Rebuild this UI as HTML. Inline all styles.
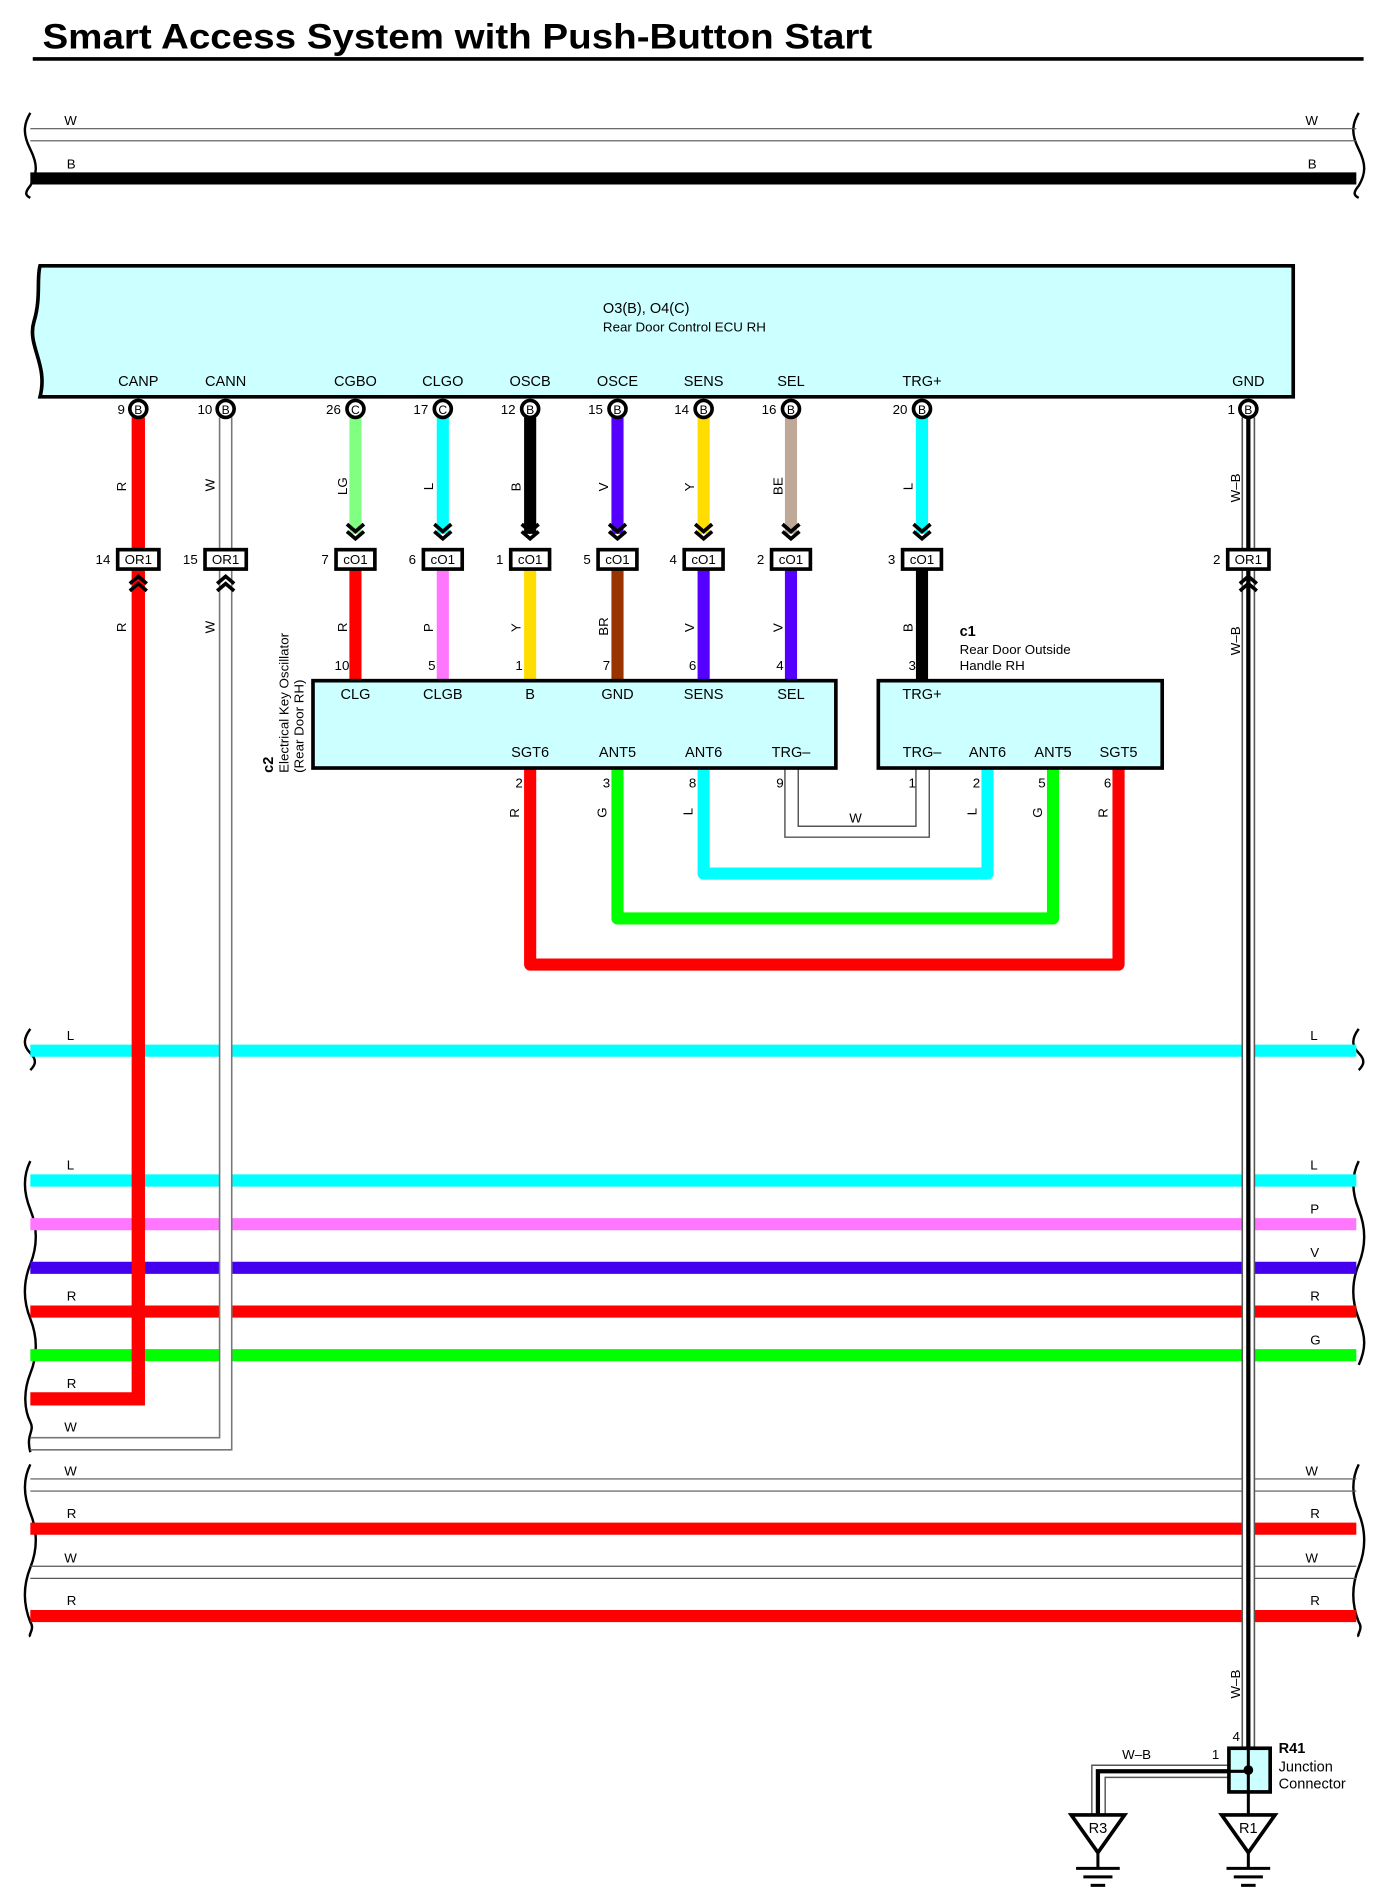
<!DOCTYPE html>
<html><head><meta charset="utf-8"><style>
html,body{margin:0;padding:0;background:#fff}
svg{display:block}
text{font-family:"Liberation Sans",sans-serif;fill:#000}
</style></head><body>
<svg width="1383" height="1900" viewBox="0 0 1140 1566" xmlns="http://www.w3.org/2000/svg">
<text x="35" y="40" font-size="29" font-weight="bold" textLength="684" lengthAdjust="spacingAndGlyphs">Smart Access System with Push-Button Start</text>
<rect x="27" y="47" width="1097" height="3" fill="#000"/>

<g fill="none" stroke="#000" stroke-width="2">
<path d="M25 93 c-6 10 -6 18 0 30 c6 12 6 20 0 30 c-5 6 -4 8 0 10"/>
<path d="M1120 93 c-6 10 -6 18 0 30 c6 12 6 20 0 30 c-5 6 -4 8 0 10"/>
<path d="M25 848 c-6 8 -6 14 0 20 c6 6 4 10 0 14"/>
<path d="M1120 848 c-6 8 -6 14 0 20 c6 6 4 10 0 14"/>
<path d="M25 957 c-6 12 -6 25 0 40 c6 15 6 30 0 45 c-6 15 -6 30 0 45 c6 15 6 30 0 45 c-6 15 -5 30 0 40 c4 8 -4 10 0 25"/>
<path d="M1120 957 c-6 12 -6 25 0 40 c6 15 6 30 0 45 c-6 15 -6 30 0 45 c6 15 6 25 0 38"/>
<path d="M25 1207 c-6 12 -6 25 0 40 c6 15 6 30 0 45 c-6 15 -6 30 0 45 c4 6 -2 10 0 12"/>
<path d="M1120 1207 c-6 12 -6 25 0 40 c6 15 6 30 0 45 c-6 15 -6 30 0 45 c4 6 -2 10 0 12"/>
</g>

<g stroke="#555" stroke-width="1"><line x1="25" y1="106" x2="1118" y2="106"/><line x1="25" y1="116" x2="1118" y2="116"/></g>
<line x1="25" y1="147" x2="1118" y2="147" stroke="#000" stroke-width="10"/>
<g font-size="11"><text x="53" y="103">W</text><text x="1076" y="103">W</text><text x="55" y="139">B</text><text x="1078" y="139">B</text></g>

<path d="M33 219 L1066 219 L1066 327 L33 327 C40 300 22 285 28 265 C34 245 30 230 33 219 Z" fill="#ccffff" stroke="#000" stroke-width="3"/>
<text x="497" y="258" font-size="12">O3(B), O4(C)</text>
<text x="497" y="273" font-size="11">Rear Door Control ECU RH</text>
<g font-size="12" text-anchor="middle">
<text x="114" y="318">CANP</text><text x="186" y="318">CANN</text><text x="293" y="318">CGBO</text><text x="365" y="318">CLGO</text><text x="437" y="318">OSCB</text><text x="509" y="318">OSCE</text><text x="580" y="318">SENS</text><text x="652" y="318">SEL</text><text x="760" y="318">TRG+</text><text x="1029" y="318">GND</text>
</g>

<g stroke-width="10">
<line x1="25" y1="866" x2="1118" y2="866" stroke="#00ffff"/>
<line x1="25" y1="973" x2="1118" y2="973" stroke="#00ffff"/>
<line x1="25" y1="1009" x2="1118" y2="1009" stroke="#ff77ff"/>
<line x1="25" y1="1045" x2="1118" y2="1045" stroke="#4400ee"/>
<line x1="25" y1="1081" x2="1118" y2="1081" stroke="#ff0000"/>
<line x1="25" y1="1117" x2="1118" y2="1117" stroke="#00ff00"/>
<line x1="25" y1="1260" x2="1118" y2="1260" stroke="#ff0000"/>
<line x1="25" y1="1332" x2="1118" y2="1332" stroke="#ff0000"/>
</g>
<g stroke="#555" stroke-width="1">
<line x1="25" y1="1219" x2="1118" y2="1219"/><line x1="25" y1="1229" x2="1118" y2="1229"/>
<line x1="25" y1="1291" x2="1118" y2="1291"/><line x1="25" y1="1301" x2="1118" y2="1301"/>
</g>
<g font-size="11">
<text x="55" y="857">L</text><text x="1080" y="857">L</text>
<text x="55" y="964">L</text><text x="1080" y="964">L</text>
<text x="1080" y="1000">P</text>
<text x="1080" y="1036">V</text>
<text x="55" y="1072">R</text><text x="1080" y="1072">R</text>
<text x="1080" y="1108">G</text>
<text x="55" y="1144">R</text>
<text x="53" y="1180">W</text>
<text x="53" y="1216">W</text><text x="1076" y="1216">W</text>
<text x="55" y="1251">R</text><text x="1080" y="1251">R</text>
<text x="53" y="1288">W</text><text x="1076" y="1288">W</text>
<text x="55" y="1323">R</text><text x="1080" y="1323">R</text>
</g>

<g stroke="#fff" stroke-width="10" fill="none">
<line x1="186" y1="480" x2="186" y2="1195"/>
<line x1="1029" y1="480" x2="1029" y2="1440"/>
</g>
<path d="M114 344 V1153 H25" fill="none" stroke="#ff0000" stroke-width="11"/>
<path d="M181 344 V1185 H25 M191 344 V1195 H25" fill="none" stroke="#777" stroke-width="1.3"/>
<path d="M1024 344 V1441 M1034 344 V1441" stroke="#555" stroke-width="1.3"/>
<line x1="1029" y1="344" x2="1029" y2="1441" stroke="#000" stroke-width="3.5"/>

<g stroke-width="10">
<line x1="293" y1="344" x2="293" y2="440" stroke="#80ff80"/>
<line x1="365" y1="344" x2="365" y2="440" stroke="#00ffff"/>
<line x1="437" y1="344" x2="437" y2="440" stroke="#000"/>
<line x1="509" y1="344" x2="509" y2="440" stroke="#5500ff"/>
<line x1="580" y1="344" x2="580" y2="440" stroke="#ffdd00"/>
<line x1="652" y1="344" x2="652" y2="440" stroke="#c0a898"/>
<line x1="760" y1="344" x2="760" y2="440" stroke="#00ffff"/>
<line x1="293" y1="470" x2="293" y2="561" stroke="#ff0000"/>
<line x1="365" y1="470" x2="365" y2="561" stroke="#ff77ff"/>
<line x1="437" y1="470" x2="437" y2="561" stroke="#ffdd00"/>
<line x1="509" y1="470" x2="509" y2="561" stroke="#993300"/>
<line x1="580" y1="470" x2="580" y2="561" stroke="#5500ff"/>
<line x1="652" y1="470" x2="652" y2="561" stroke="#5500ff"/>
<line x1="760" y1="470" x2="760" y2="561" stroke="#000"/>
</g>

<g fill="#fff" stroke="#000" stroke-width="3">
<circle cx="114" cy="337" r="7"/><circle cx="186" cy="337" r="7"/><circle cx="293" cy="337" r="7"/><circle cx="365" cy="337" r="7"/><circle cx="437" cy="337" r="7"/><circle cx="509" cy="337" r="7"/><circle cx="580" cy="337" r="7"/><circle cx="652" cy="337" r="7"/><circle cx="760" cy="337" r="7"/><circle cx="1029" cy="337" r="7"/>
</g>
<g font-size="10" text-anchor="middle">
<text x="114" y="341">B</text><text x="186" y="341">B</text><text x="293" y="341">C</text><text x="365" y="341">C</text><text x="437" y="341">B</text><text x="509" y="341">B</text><text x="580" y="341">B</text><text x="652" y="341">B</text><text x="760" y="341">B</text><text x="1029" y="341">B</text>
</g>
<g font-size="11" text-anchor="end">
<text x="103" y="341">9</text><text x="175" y="341">10</text><text x="281" y="341">26</text><text x="353" y="341">17</text><text x="425" y="341">12</text><text x="497" y="341">15</text><text x="568" y="341">14</text><text x="640" y="341">16</text><text x="748" y="341">20</text><text x="1018" y="341">1</text>
</g>

<g fill="none" stroke="#000" stroke-width="3">
<path d="M286 432 l7 6 l7 -6 M286 438 l7 6 l7 -6"/>
<path d="M358 432 l7 6 l7 -6 M358 438 l7 6 l7 -6"/>
<path d="M430 432 l7 6 l7 -6 M430 438 l7 6 l7 -6"/>
<path d="M502 432 l7 6 l7 -6 M502 438 l7 6 l7 -6"/>
<path d="M573 432 l7 6 l7 -6 M573 438 l7 6 l7 -6"/>
<path d="M645 432 l7 6 l7 -6 M645 438 l7 6 l7 -6"/>
<path d="M753 432 l7 6 l7 -6 M753 438 l7 6 l7 -6"/>
<path d="M107 481 l7 -6 l7 6 M107 487 l7 -6 l7 6"/>
<path d="M179 481 l7 -6 l7 6 M179 487 l7 -6 l7 6"/>
<path d="M1022 481 l7 -6 l7 6 M1022 487 l7 -6 l7 6"/>
</g>

<g fill="#fff" stroke="#000" stroke-width="3">
<rect x="97" y="453" width="34" height="16"/><rect x="169" y="453" width="34" height="16"/><rect x="1012" y="453" width="34" height="16"/>
<rect x="277" y="453" width="32" height="16"/><rect x="349" y="453" width="32" height="16"/><rect x="421" y="453" width="32" height="16"/><rect x="493" y="453" width="32" height="16"/><rect x="564" y="453" width="32" height="16"/><rect x="636" y="453" width="32" height="16"/><rect x="744" y="453" width="32" height="16"/>
</g>
<g font-size="11" text-anchor="middle">
<text x="114" y="465">OR1</text><text x="186" y="465">OR1</text><text x="1029" y="465">OR1</text>
<text x="293" y="465">cO1</text><text x="365" y="465">cO1</text><text x="437" y="465">cO1</text><text x="509" y="465">cO1</text><text x="580" y="465">cO1</text><text x="652" y="465">cO1</text><text x="760" y="465">cO1</text>
</g>
<g font-size="11" text-anchor="end">
<text x="91" y="465">14</text><text x="163" y="465">15</text><text x="1006" y="465">2</text>
<text x="271" y="465">7</text><text x="343" y="465">6</text><text x="415" y="465">1</text><text x="487" y="465">5</text><text x="558" y="465">4</text><text x="630" y="465">2</text><text x="738" y="465">3</text>
</g>

<g font-size="11">
<text transform="translate(104,405) rotate(-90)">R</text>
<text transform="translate(177,405) rotate(-90)">W</text>
<text transform="translate(286,408) rotate(-90)">LG</text>
<text transform="translate(357,404) rotate(-90)">L</text>
<text transform="translate(429,405) rotate(-90)">B</text>
<text transform="translate(501,405) rotate(-90)">V</text>
<text transform="translate(572,405) rotate(-90)">Y</text>
<text transform="translate(645,408) rotate(-90)">BE</text>
<text transform="translate(752,404) rotate(-90)">L</text>
<text transform="translate(1022,414) rotate(-90)">W–B</text>
<text transform="translate(104,521) rotate(-90)">R</text>
<text transform="translate(177,522) rotate(-90)">W</text>
<text transform="translate(286,521) rotate(-90)">R</text>
<text transform="translate(357,521) rotate(-90)">P</text>
<text transform="translate(429,521) rotate(-90)">Y</text>
<text transform="translate(501,524) rotate(-90)">BR</text>
<text transform="translate(572,521) rotate(-90)">V</text>
<text transform="translate(645,521) rotate(-90)">V</text>
<text transform="translate(752,521) rotate(-90)">B</text>
<text transform="translate(1022,540) rotate(-90)">W–B</text>
<text transform="translate(1022,1400) rotate(-90)">W–B</text>
<text transform="translate(428,674) rotate(-90)">R</text>
<text transform="translate(500,674) rotate(-90)">G</text>
<text transform="translate(571,672) rotate(-90)">L</text>
<text transform="translate(805,672) rotate(-90)">L</text>
<text transform="translate(859,674) rotate(-90)">G</text>
<text transform="translate(913,674) rotate(-90)">R</text>
</g>

<path d="M437 633 V795 H922 V633" fill="none" stroke="#ff0000" stroke-width="10" stroke-linejoin="round"/>
<path d="M509 633 V757 H868 V633" fill="none" stroke="#00ff00" stroke-width="10" stroke-linejoin="round"/>
<path d="M580 633 V720 H814 V633" fill="none" stroke="#00ffff" stroke-width="10" stroke-linejoin="round"/>
<path d="M647 633 V690 H766 V633 M658 633 V681 H755 V633" fill="none" stroke="#555" stroke-width="1.2"/>
<text x="700" y="678" font-size="11">W</text>

<rect x="258" y="561" width="431" height="72" fill="#ccffff" stroke="#000" stroke-width="3"/>
<rect x="724" y="561" width="234" height="72" fill="#ccffff" stroke="#000" stroke-width="3"/>
<g font-size="12" text-anchor="middle">
<text x="293" y="576">CLG</text><text x="365" y="576">CLGB</text><text x="437" y="576">B</text><text x="509" y="576">GND</text><text x="580" y="576">SENS</text><text x="652" y="576">SEL</text>
<text x="437" y="624">SGT6</text><text x="509" y="624">ANT5</text><text x="580" y="624">ANT6</text><text x="652" y="624">TRG–</text>
<text x="760" y="576">TRG+</text>
<text x="760" y="624">TRG–</text><text x="814" y="624">ANT6</text><text x="868" y="624">ANT5</text><text x="922" y="624">SGT5</text>
</g>
<g font-size="11" text-anchor="end">
<text x="288" y="552">10</text><text x="359" y="552">5</text><text x="431" y="552">1</text><text x="503" y="552">7</text><text x="574" y="552">6</text><text x="646" y="552">4</text><text x="755" y="552">3</text>
<text x="431" y="649">2</text><text x="503" y="649">3</text><text x="574" y="649">8</text><text x="646" y="649">9</text>
<text x="755" y="649">1</text><text x="808" y="649">2</text><text x="862" y="649">5</text><text x="916" y="649">6</text>
</g>
<text x="791" y="524" font-size="12" font-weight="bold">c1</text>
<text x="791" y="539" font-size="11">Rear Door Outside</text>
<text x="791" y="552" font-size="11">Handle RH</text>
<g transform="translate(225,637) rotate(-90)">
<text x="0" y="0" font-size="12" font-weight="bold">c2</text>
<text x="0" y="13" font-size="11">Electrical Key Oscillator</text>
<text x="0" y="25" font-size="11">(Rear Door RH)</text>
</g>

<path d="M1014 1455 H900 V1496 M1014 1465 H911 V1496" fill="none" stroke="#555" stroke-width="1.2"/>
<path d="M1029 1460 H905 V1496" fill="none" stroke="#000" stroke-width="3.5"/>
<rect x="1013" y="1441" width="34" height="36" fill="#ccffff" stroke="#000" stroke-width="3"/>
<line x1="1029" y1="1441" x2="1029" y2="1495" stroke="#000" stroke-width="2.5"/>
<line x1="1013" y1="1460" x2="1029" y2="1460" stroke="#000" stroke-width="2.5"/>
<circle cx="1029" cy="1459" r="4" fill="#000"/>
<text x="1054" y="1445" font-size="12" font-weight="bold">R41</text>
<text x="1054" y="1460" font-size="12">Junction</text>
<text x="1054" y="1474" font-size="12">Connector</text>
<text x="1016" y="1435" font-size="11">4</text>
<text x="999" y="1450" font-size="11">1</text>
<text x="925" y="1450" font-size="11">W–B</text>
<g fill="#fff" stroke="#000" stroke-width="3">
<path d="M883 1496 H927 L905 1527 Z"/>
<path d="M1007 1496 H1051 L1029 1527 Z"/>
</g>
<g font-size="12" text-anchor="middle"><text x="905" y="1511">R3</text><text x="1029" y="1511">R1</text></g>
<g stroke="#000" stroke-width="2.5">
<line x1="905" y1="1527" x2="905" y2="1540"/><line x1="887" y1="1540" x2="923" y2="1540"/><line x1="893" y1="1547" x2="917" y2="1547"/><line x1="899" y1="1554" x2="911" y2="1554"/>
<line x1="1029" y1="1527" x2="1029" y2="1540"/><line x1="1011" y1="1540" x2="1047" y2="1540"/><line x1="1017" y1="1547" x2="1041" y2="1547"/><line x1="1023" y1="1554" x2="1035" y2="1554"/>
</g>
</svg>
</body></html>
